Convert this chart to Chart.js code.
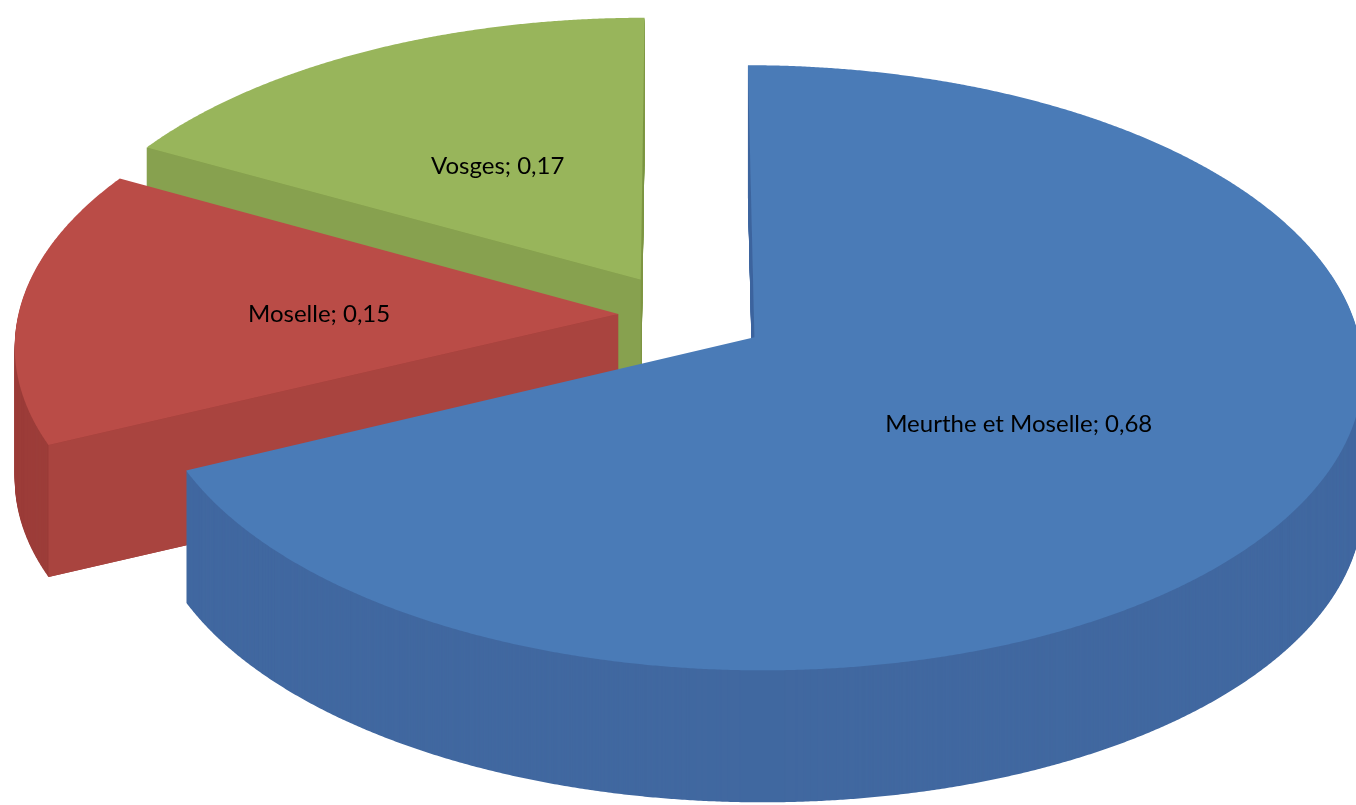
<!DOCTYPE html>
<html><head><meta charset="utf-8">
<script src="https://cdn.jsdelivr.net/npm/chart.js@4.4.1/dist/chart.umd.min.js"></script>
<style>html,body{margin:0;padding:0;background:#fff;overflow:hidden}</style>
</head><body>
<canvas id="c" width="1356" height="805"></canvas>
<script>
const categories = ['Meurthe et Moselle', 'Moselle', 'Vosges'];
const values = [0.68, 0.15, 0.17];
const valueLabels = ['0,68', '0,15', '0,17'];

const topColors  = ['#4a7bb7', '#ba4c47', '#98b55b'];
const cutColors  = ['#4571aa', '#a9443f', '#87a14f'];
const wallColors = ['#4168a0', '#9c3d39', '#7f9848'];
const EXPLODE = [0.14, 0.108, 0.14];

// projection of the pie (normalised units, radius = 1)
const VIEW = {cx: 683, cy: 315, rx: 600, ry: 295, k: 0.1, depth: 132, labelDy: 5};
function proj(u, v) {
  const w = 1 - VIEW.k * v;
  return [VIEW.cx + VIEW.rx * u / w, VIEW.cy + VIEW.ry * v / w];
}

const pie3d = {
  id: 'pie3d',
  beforeDatasetsDraw(chart) {
    const ctx = chart.ctx;
    const arcs = chart.getDatasetMeta(0).data;
    const shapes = arcs.map((a, i) => {
      const mid = (a.startAngle + a.endAngle) / 2;
      const ex = Math.cos(mid) * EXPLODE[i], ey = Math.sin(mid) * EXPLODE[i];
      const pts = [proj(ex, ey)];
      const n = Math.max(8, Math.ceil((a.endAngle - a.startAngle) / 0.004));
      for (let s = 0; s <= n; s++) {
        const t = a.startAngle + (a.endAngle - a.startAngle) * s / n;
        pts.push(proj(ex + Math.cos(t), ey + Math.sin(t)));
      }
      return {a, ex, ey, pts};
    });
    const poly = (pts, dy) => {
      ctx.beginPath();
      pts.forEach((p, j) => j ? ctx.lineTo(p[0], p[1] + dy) : ctx.moveTo(p[0], p[1] + dy));
      ctx.closePath();
    };
    const D = VIEW.depth;
    for (const i of [2, 1, 0]) {
      const {a, pts} = shapes[i];
      ctx.fillStyle = wallColors[i];
      for (let d = D; d >= 1; d--) { poly(pts, d); ctx.fill(); }
      const apex = pts[0], first = pts[1], last = pts[pts.length - 1];
      ctx.fillStyle = cutColors[i];
      if (Math.cos(a.startAngle) < -0.01) {
        poly([apex, first, [first[0], first[1] + D], [apex[0], apex[1] + D]], 0); ctx.fill();
      }
      if (Math.cos(a.endAngle) > 0.01) {
        poly([apex, last, [last[0], last[1] + D], [apex[0], apex[1] + D]], 0); ctx.fill();
      }
      ctx.fillStyle = topColors[i];
      poly(pts, 0); ctx.fill();
    }
    ctx.save();
    ctx.font = '24px Lato, "Liberation Sans", sans-serif';
    ctx.fillStyle = '#000';
    ctx.textAlign = 'center';
    ctx.textBaseline = 'middle';
    shapes.forEach(({a, ex, ey}, i) => {
      const p = a.tooltipPosition();
      const R = a.outerRadius;
      const q = proj(ex + (p.x - a.x) / R, ey + (p.y - a.y) / R);
      ctx.fillText(categories[i] + '; ' + valueLabels[i], q[0], q[1] + VIEW.labelDy);
    });
    ctx.restore();
    return false;
  }
};

new Chart(document.getElementById('c'), {
  type: 'pie',
  data: {
    labels: categories,
    datasets: [{data: values, backgroundColor: topColors, borderWidth: 0}]
  },
  options: {
    responsive: false,
    animation: false,
    plugins: {legend: {display: false}, tooltip: {enabled: false}}
  },
  plugins: [pie3d]
});
</script>
</body></html>
